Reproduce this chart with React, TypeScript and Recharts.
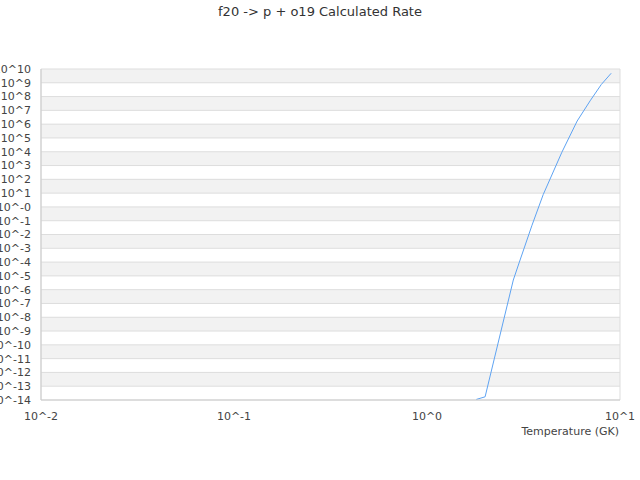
import React from "react";
import {
  CartesianGrid,
  Label,
  Line,
  LineChart,
  XAxis,
  YAxis,
} from "recharts";

// temperatures in GK
const temperatures = [1.8, 2, 2.8, 3, 3.5, 4, 5, 6, 7, 8, 9];
// calculated rate at each temperature
const rates = [
  1.1e-14, 1.7e-14, 5e-6, 8.7e-5, 4.7e-2, 7.8, 9.3e3, 1.7e6, 4.9e7, 7.5e8,
  4.9e9,
];

const xTicks = [0.01, 0.1, 1, 10];
const xTickLabels = ["10^-2", "10^-1", "10^0", "10^1"];

const yTicks = [
  1e-14, 1e-13, 1e-12, 1e-11, 1e-10, 1e-9, 1e-8, 1e-7, 1e-6, 1e-5, 1e-4, 1e-3,
  1e-2, 1e-1, 1, 1e1, 1e2, 1e3, 1e4, 1e5, 1e6, 1e7, 1e8, 1e9, 1e10,
];
const yTickLabels = [
  "10^-14", "10^-13", "10^-12", "10^-11", "10^-10", "10^-9", "10^-8", "10^-7",
  "10^-6", "10^-5", "10^-4", "10^-3", "10^-2", "10^-1", "10^-0", "10^1",
  "10^2", "10^3", "10^4", "10^5", "10^6", "10^7", "10^8", "10^9", "10^10",
];

const data = temperatures.map((t, i) => ({ t, rate: rates[i] }));

const font = "'DejaVu Sans', sans-serif";
const tickStyle = { fontSize: 11, fill: "#444", fontFamily: font };

export default function App() {
  return (
    <div
      style={{
        position: "absolute",
        left: 0,
        top: 0,
        width: 640,
        height: 480,
        background: "#fff",
      }}
    >
      <div
        style={{
          position: "absolute",
          top: 4,
          left: 0,
          width: 640,
          textAlign: "center",
          fontFamily: font,
          fontSize: 13,
          color: "#333",
        }}
      >
        f20 -&gt; p + o19 Calculated Rate
      </div>
      <LineChart
        width={640}
        height={480}
        data={data}
        margin={{ top: 69, right: 20, bottom: 40, left: 0 }}
      >
        <CartesianGrid
          stroke="#dddddd"
          horizontalFill={["#f2f2f2", "#ffffff"]}
          verticalCoordinatesGenerator={({ offset }: any) => [
            offset.left,
            offset.left + offset.width,
          ]}
        />
        <XAxis
          dataKey="t"
          type="number"
          scale="log"
          domain={[0.01, 10]}
          ticks={xTicks}
          tickFormatter={(_v: number, i: number) => xTickLabels[i]}
          tickLine={false}
          tickMargin={6}
          stroke="#cccccc"
          tick={tickStyle}
          height={40}
          interval={0}
          allowDataOverflow
        >
          <Label
            value="Temperature (GK)"
            position="insideBottomRight"
            offset={3}
            dx={2}
            dy={-2}
            style={{ fontSize: 11, fill: "#444", fontFamily: font }}
          />
        </XAxis>
        <YAxis
          type="number"
          scale="log"
          domain={[1e-14, 1e10]}
          ticks={yTicks}
          tickFormatter={(_v: number, i: number) => yTickLabels[i]}
          tickLine={false}
          tickSize={0}
          tickMargin={10}
          stroke="#cccccc"
          tick={tickStyle}
          width={41}
          interval={0}
          allowDataOverflow
        />
        <Line
          dataKey="rate"
          stroke="#5ea3f2"
          strokeWidth={1}
          dot={false}
          type="linear"
          isAnimationActive={false}
        />
      </LineChart>
    </div>
  );
}
